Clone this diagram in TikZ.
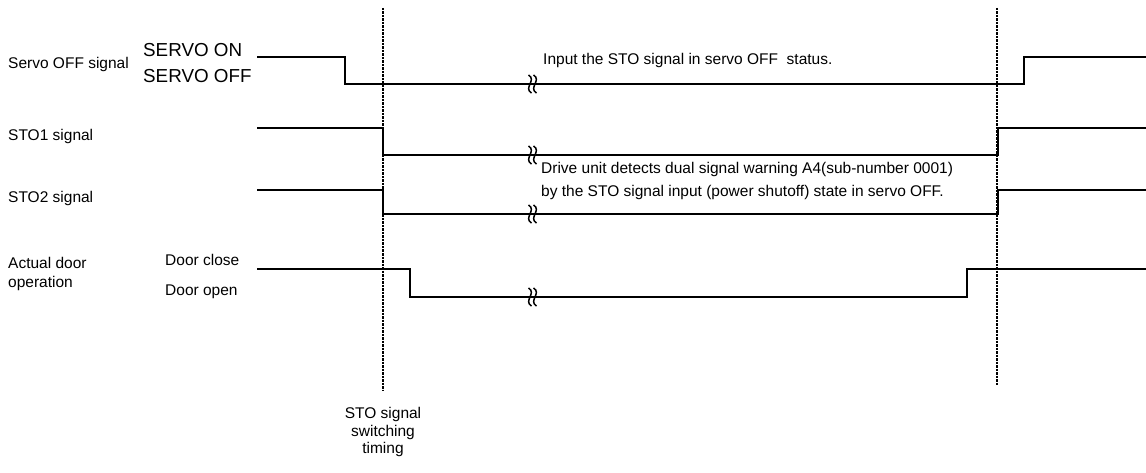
\documentclass[tikz,border=0pt]{standalone}
\usepackage{fontspec}
\setmainfont{Liberation Sans}
\begin{document}
\begin{tikzpicture}[x=1pt,y=-1pt,
  sig/.style={line width=1.4pt,line join=miter},
  tline/.style={line width=1.1pt,dash pattern=on 2.5pt off 1pt},
  lbl/.style={anchor=west,inner sep=0pt,font=\fontsize{15.5}{18}\selectfont},
  big/.style={anchor=west,inner sep=0pt,font=\fontsize{18.8}{21}\selectfont},
  brk/.style={line width=1.5pt}]
\useasboundingbox (0,0) rectangle (1146,473);
% timing lines
\draw[tline] (383,8) -- (383,390);
\draw[tline] (997,8) -- (997,385);
% waveforms
\draw[sig] (257,57) -- (345,57) -- (345,84) -- (1024,84) -- (1024,57) -- (1146,57);
\draw[sig] (257,128) -- (383,128) -- (383,155) -- (998,155) -- (998,128) -- (1146,128);
\draw[sig] (257,190) -- (383,190) -- (383,214) -- (998,214) -- (998,190) -- (1146,190);
\draw[sig] (257,269) -- (410,269) -- (410,297) -- (967,297) -- (967,269) -- (1146,269);
% break marks
\foreach \yy in {84,155,214,297}{
  \foreach \xx in {530,535}{
    \draw[brk] (\xx-1.5,\yy-9) .. controls (\xx+7,\yy-4) and (\xx-7,\yy+4) .. (\xx+1.5,\yy+9);
  }
}
% labels
\node[lbl] (sos) at (8,64) {Servo OFF signal};
\node[big] (son) at (143,50) {SERVO ON};
\node[big] (soff) at (143,76) {SERVO OFF};
\node[lbl] (inp) at (543,60) {Input the STO signal in servo OFF\ \ status.};
\node[lbl] (sto1) at (8,136) {STO1 signal};
\node[lbl] (drv1) at (541,169) {Drive unit detects dual signal warning A4(sub-number 0001)};
\node[lbl] (drv2) at (541,192) {by the STO signal input (power shutoff) state in servo OFF.};
\node[lbl] (sto2) at (8,198) {STO2 signal};
\node[lbl] (door1) at (8,263) {Actual door};
\node[lbl] (door2) at (8,283) {operation};
\node[lbl] (dc) at (165,260) {Door close};
\node[lbl] (do) at (165,292) {Door open};
\node[inner sep=0pt,align=center,font=\fontsize{15.5}{17.5}\selectfont] (sw) at (383,432) {STO signal\\switching\\timing};
\end{tikzpicture}
\end{document}
